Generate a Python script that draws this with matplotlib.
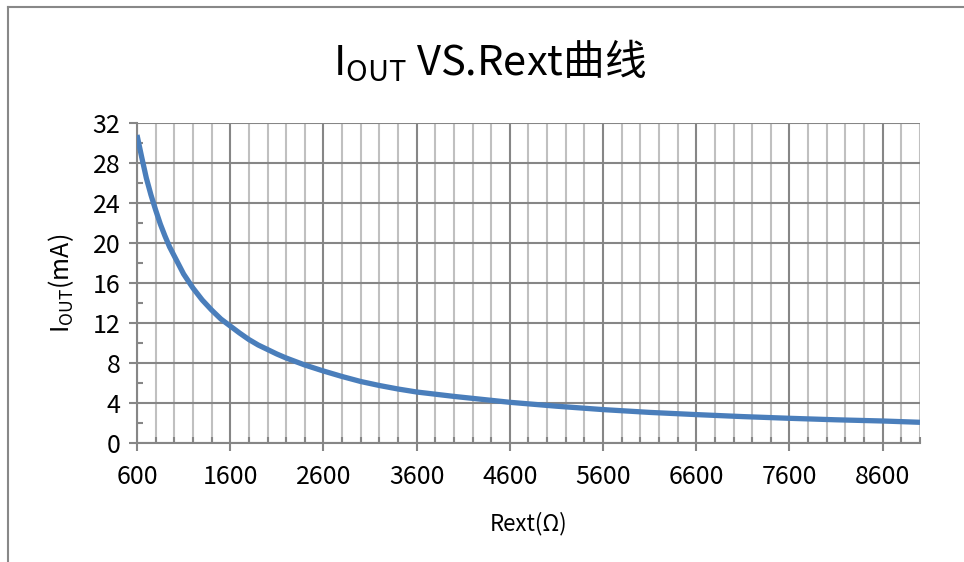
import numpy as np
import matplotlib
matplotlib.use("Agg")
import matplotlib.pyplot as plt
from matplotlib.ticker import MultipleLocator, FixedLocator
from matplotlib.lines import Line2D

# -------------------------------
# DATA
# -------------------------------
rext = [600, 650, 700, 750, 800, 850, 900, 950, 1000, 1100, 1200, 1300,
        1400, 1500, 1600, 1700, 1800, 1900, 2000, 2100, 2200, 2400,
        2600, 2800, 3000, 3200, 3400, 3600, 3800, 4000, 4600, 5100, 5600,
        6100, 6600, 7100, 7600, 8100, 8600, 9000]
iout = [30.8, 28.6, 26.5, 24.8, 23.3, 21.9, 20.7, 19.6, 18.7, 16.9, 15.5, 14.3,
        13.3, 12.4, 11.7, 11.0, 10.35, 9.8, 9.35, 8.9, 8.5, 7.8,
        7.2, 6.65, 6.15, 5.75, 5.4, 5.1, 4.88, 4.66, 4.07, 3.68, 3.34,
        3.06, 2.84, 2.64, 2.47, 2.32, 2.2, 2.07]
x_ticks = [600, 1600, 2600, 3600, 4600, 5600, 6600, 7600, 8600]
y_ticks = [0, 4, 8, 12, 16, 20, 24, 28, 32]

FONT = ['Noto Sans CJK SC', 'DejaVu Sans']
plt.rcParams['font.family'] = FONT
plt.rcParams['mathtext.fontset'] = 'custom'
plt.rcParams['mathtext.rm'] = 'Noto Sans CJK SC'

GRID_DARK = '#868686'
GRID_LIGHT = '#c0c0c0'
LINE_BLUE = '#4a7ebb'

# -------------------------------
# FIGURE
# -------------------------------
fig = plt.figure(figsize=(9.64, 5.62), dpi=100)
ax = fig.add_axes([137 / 964, 119 / 562, (920 - 137) / 964, (443 - 123) / 562])

ax.plot(rext, iout, color=LINE_BLUE, lw=3.8, solid_capstyle='butt',
        solid_joinstyle='round', zorder=5)

ax.set_xlim(600, 9000)
ax.set_ylim(0, 32)
ax.xaxis.set_major_locator(FixedLocator(x_ticks))
ax.xaxis.set_minor_locator(MultipleLocator(200))
ax.yaxis.set_major_locator(FixedLocator(y_ticks))
ax.yaxis.set_minor_locator(MultipleLocator(2))

ax.grid(which='minor', axis='x', color=GRID_LIGHT, lw=1.5)
ax.grid(which='major', axis='x', color=GRID_DARK, lw=1.5)
ax.grid(which='major', axis='y', color=GRID_DARK, lw=1.5)
ax.set_axisbelow(True)

for s in ['top', 'right']:
    ax.spines[s].set_visible(False)
for s in ['left', 'bottom']:
    ax.spines[s].set_color(GRID_DARK)
    ax.spines[s].set_linewidth(1.5)

ax.tick_params(which='major', direction='out', length=6, width=1.5,
               color=GRID_DARK, labelsize=18)
ax.tick_params(axis='x', which='major', pad=9)
ax.tick_params(axis='y', which='major', pad=6)
ax.tick_params(which='minor', direction='in', length=4, width=1.5,
               color=GRID_DARK)

ax.set_xlabel('Rext(Ω)', fontsize=16, labelpad=16)
ax.set_ylabel(r'$\mathregular{I_{OUT}}$(mA)', fontsize=18, labelpad=12)

fig.text(490 / 964, 1 - 74 / 562, r'$\mathregular{I_{OUT}}$ VS.Rext曲线',
         fontsize=30, ha='center', va='baseline')

# outer chart border (top and left edges visible)
fig.add_artist(Line2D([7.5 / 964, 1], [1 - 7 / 562, 1 - 7 / 562],
                      transform=fig.transFigure, color='#888888', lw=1.5))
fig.add_artist(Line2D([7.5 / 964, 7.5 / 964], [0, 1 - 7 / 562],
                      transform=fig.transFigure, color='#888888', lw=1.5))

fig.savefig('out.png', dpi=100)
